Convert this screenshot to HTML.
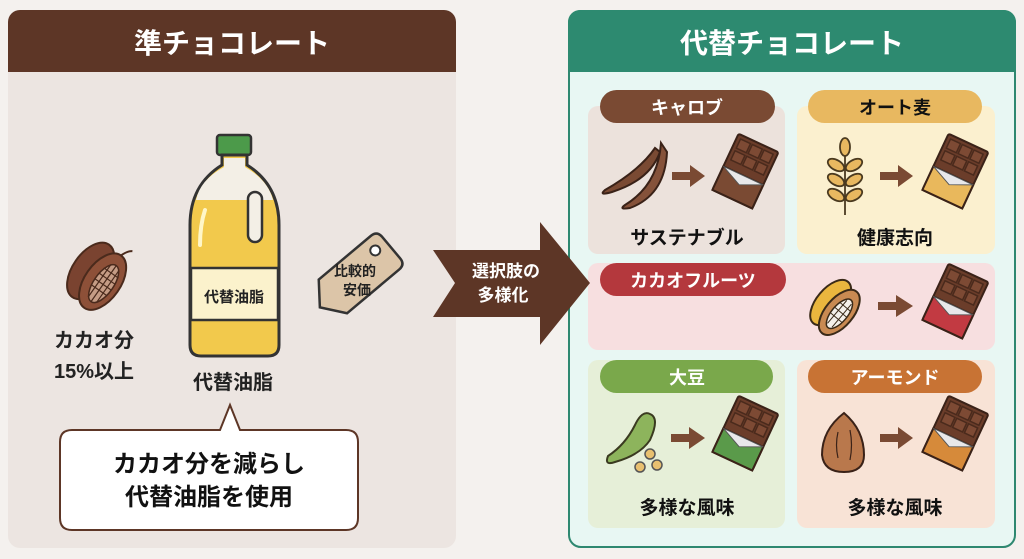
<!DOCTYPE html>
<html><head><meta charset="utf-8"><style>
body{margin:0;width:1024px;height:559px;background:#f4f1ee;overflow:hidden;font-family:"Liberation Sans","Noto Sans CJK JP",sans-serif}
svg{position:absolute;left:0;top:0}
text{font-family:"Liberation Sans","Noto Sans CJK JP",sans-serif;font-weight:bold}
</style></head><body>
<svg width="1024" height="559" viewBox="0 0 1024 559">
<defs>
<g id="bar">
 <rect x="-22" y="-32" width="44" height="62" rx="2" fill="#6b3d2a" stroke="#3a2218" stroke-width="2"/>
 <g stroke="#4a2a1c" stroke-width="1.5" fill="#7d4a34">
  <rect x="-18" y="-28" width="11" height="10"/><rect x="-5" y="-28" width="11" height="10"/><rect x="8" y="-28" width="10" height="10"/>
  <rect x="-18" y="-15" width="11" height="10"/><rect x="-5" y="-15" width="11" height="10"/><rect x="8" y="-15" width="10" height="10"/>
 </g>
</g>
</defs>

<!-- LEFT PANEL -->
<rect x="8" y="10" width="448" height="538" rx="12" fill="#ece5e1"/>
<path d="M8 72 V22 a12 12 0 0 1 12 -12 H444 a12 12 0 0 1 12 12 V72 Z" fill="#5d3626"/>
<text x="232" y="53" font-size="28" fill="#fff" text-anchor="middle">準チョコレート</text>

<!-- cacao pod -->
<g transform="translate(98,276) rotate(35)">
 <ellipse cx="-9" cy="0" rx="18" ry="32" fill="#7a4330" stroke="#4a2a1c" stroke-width="2"/>
 <ellipse cx="7" cy="2" rx="18" ry="32" fill="#8d5038" stroke="#4a2a1c" stroke-width="2"/>
 <ellipse cx="9" cy="3" rx="10" ry="22" fill="#c59c85" stroke="#4a2a1c" stroke-width="1.5"/>
 <path d="M0 -10 H18 M-1 -3 H19 M-1 4 H19 M0 11 H18 M4 -17 V23 M9 -19 V25 M14 -16 V22" stroke="#4a2a1c" stroke-width="1.2"/>
 <path d="M7 -30 Q10 -38 14 -40" stroke="#4a2a1c" stroke-width="2" fill="none"/>
</g>
<text x="94" y="347" font-size="20" fill="#222" text-anchor="middle">カカオ分</text>
<text x="94" y="378" font-size="20" fill="#222" text-anchor="middle">15%以上</text>

<!-- bottle -->
<rect x="217" y="135" width="34" height="20" rx="3" fill="#4c9a4a" stroke="#333" stroke-width="2.5"/>
<path d="M222 155 V165 Q190 185 190 225 V345 Q190 356 201 356 H268 Q279 356 279 345 V225 Q279 185 247 165 V155 Z" fill="#f2c94c" stroke="#333" stroke-width="3"/>
<path d="M224 158 V167 Q200 180 196 200 H273 Q268 180 245 167 V158 Z" fill="#f3efe6"/>
<rect x="248" y="192" width="14" height="50" rx="7" fill="#f3efe6" stroke="#333" stroke-width="2.5"/>
<path d="M205 210 Q200 225 200 245" stroke="#fff6c8" stroke-width="4" fill="none" stroke-linecap="round"/>
<rect x="191" y="268" width="87" height="52" fill="#fbf2cc" stroke="#333" stroke-width="2.5"/>
<text x="234" y="302" font-size="15" fill="#222" text-anchor="middle">代替油脂</text>
<text x="233" y="389" font-size="20" fill="#222" text-anchor="middle">代替油脂</text>

<!-- tag -->
<g transform="translate(362,272) rotate(-40)">
 <path d="M-38 -22 H30 Q38 -22 38 -14 V14 Q38 22 30 22 H-38 L-55 0 Z" fill="#dcc5a8" stroke="#333" stroke-width="2.5"/>
 <circle cx="24" cy="-8" r="5" fill="#fff" stroke="#333" stroke-width="2"/>
</g>
<text x="355" y="276" font-size="14" fill="#222" text-anchor="middle">比較的</text>
<text x="357" y="295" font-size="14" fill="#222" text-anchor="middle">安価</text>

<!-- bubble -->
<path d="M72 430 H220 L230 405 L240 430 H346 Q358 430 358 442 V518 Q358 530 346 530 H72 Q60 530 60 518 V442 Q60 430 72 430 Z" fill="#fff" stroke="#5d3626" stroke-width="2"/>
<text x="209" y="472" font-size="24" fill="#111" text-anchor="middle">カカオ分を減らし</text>
<text x="209" y="505" font-size="24" fill="#111" text-anchor="middle">代替油脂を使用</text>

<!-- RIGHT PANEL -->
<rect x="569" y="11" width="446" height="536" rx="12" fill="#e8f7f3" stroke="#2e8870" stroke-width="2"/>
<path d="M568 72 V22 a12 12 0 0 1 12 -12 H1004 a12 12 0 0 1 12 12 V72 Z" fill="#2d8a70"/>
<text x="792" y="53" font-size="28" fill="#fff" text-anchor="middle">代替チョコレート</text>

<!-- carob -->
<rect x="588" y="106" width="197" height="148" rx="10" fill="#ece2dc"/>
<rect x="600" y="90" width="175" height="33" rx="16.5" fill="#7a4a33"/>
<text x="687" y="114" font-size="18" fill="#fff" text-anchor="middle">キャロブ</text>
<path d="M655 148 Q640 170 605 190 Q598 196 612 192 Q650 180 660 152 Z" fill="#7a4a33" stroke="#3a2218" stroke-width="2"/>
<path d="M661 143 Q658 185 625 205 Q618 210 630 208 Q665 195 667 152 Z" fill="#85523a" stroke="#3a2218" stroke-width="2"/>
<polygon points="672,172 690,172 690,165 705,176 690,187 690,180 672,180" fill="#7a4a33"/>
<g transform="translate(745,172) rotate(25)"><use href="#bar"/><rect x="-22" y="4" width="44" height="26" fill="#7a4a33" stroke="#3a2218" stroke-width="2"/><polygon points="-22,4 0,14 22,4" fill="#e8e8ea" stroke="#555"/></g>
<text x="687" y="244" font-size="19" fill="#111" text-anchor="middle">サステナブル</text>

<!-- oat -->
<rect x="797" y="106" width="198" height="148" rx="10" fill="#fbf0cf"/>
<rect x="808" y="90" width="174" height="33" rx="16.5" fill="#e8b860"/>
<text x="895" y="114" font-size="18" fill="#111" text-anchor="middle">オート麦</text>
<g stroke="#4a3a20" stroke-width="1.8" fill="#e8b860">
 <line x1="845" y1="145" x2="845" y2="215"/>
 <ellipse cx="845" cy="147" rx="5" ry="9"/>
 <ellipse cx="836" cy="165" rx="9" ry="5" transform="rotate(30 836 165)"/><ellipse cx="854" cy="165" rx="9" ry="5" transform="rotate(-30 854 165)"/>
 <ellipse cx="836" cy="180" rx="9" ry="5" transform="rotate(30 836 180)"/><ellipse cx="854" cy="180" rx="9" ry="5" transform="rotate(-30 854 180)"/>
 <ellipse cx="836" cy="195" rx="9" ry="5" transform="rotate(30 836 195)"/><ellipse cx="854" cy="195" rx="9" ry="5" transform="rotate(-30 854 195)"/>
</g>
<polygon points="880,172 898,172 898,165 913,176 898,187 898,180 880,180" fill="#7a4a33"/>
<g transform="translate(955,172) rotate(25)"><use href="#bar"/><rect x="-22" y="4" width="44" height="26" fill="#e9b85c" stroke="#3a2218" stroke-width="2"/><polygon points="-22,4 0,14 22,4" fill="#e8e8ea" stroke="#555"/></g>
<text x="895" y="244" font-size="19" fill="#111" text-anchor="middle">健康志向</text>

<!-- cacao fruit -->
<rect x="588" y="263" width="407" height="87" rx="10" fill="#f7dfe0"/>
<rect x="600" y="263" width="186" height="33" rx="16.5" fill="#b4383d"/>
<text x="693" y="287" font-size="18" fill="#fff" text-anchor="middle">カカオフルーツ</text>
<g transform="translate(836,307) rotate(40)">
 <ellipse cx="-7" cy="0" rx="14" ry="27" fill="#eab63e" stroke="#3a2a18" stroke-width="2"/>
 <ellipse cx="6" cy="2" rx="14" ry="27" fill="#c98a52" stroke="#3a2a18" stroke-width="2"/>
 <ellipse cx="7" cy="3" rx="8" ry="18" fill="#f4f0ea" stroke="#3a2a18" stroke-width="1.5"/>
 <path d="M0 -6 H14 M-1 1 H15 M0 8 H14 M4 -12 V18 M10 -12 V18" stroke="#3a2a18" stroke-width="1"/>
</g>
<polygon points="878,302 896,302 896,295 913,306 896,317 896,310 878,310" fill="#7a4a33"/>
<g transform="translate(955,302) rotate(25)"><use href="#bar"/><rect x="-22" y="4" width="44" height="26" fill="#c23a42" stroke="#3a2218" stroke-width="2"/><polygon points="-22,4 0,14 22,4" fill="#e8e8ea" stroke="#555"/></g>

<!-- soy -->
<rect x="588" y="360" width="197" height="168" rx="10" fill="#e6efd8"/>
<rect x="600" y="360" width="173" height="33" rx="16.5" fill="#7aa84b"/>
<text x="687" y="384" font-size="18" fill="#fff" text-anchor="middle">大豆</text>
<path d="M650 414 Q660 418 650 440 Q640 455 615 462 Q604 466 608 456 Q625 445 635 425 Q642 410 650 414 Z" fill="#8db45c" stroke="#3a3a20" stroke-width="2"/>
<circle cx="650" cy="454" r="5" fill="#e8c070" stroke="#555" stroke-width="1.5"/>
<circle cx="640" cy="467" r="5" fill="#e8c070" stroke="#555" stroke-width="1.5"/>
<circle cx="657" cy="465" r="5" fill="#e8c070" stroke="#555" stroke-width="1.5"/>
<polygon points="671,434 689,434 689,427 705,438 689,449 689,442 671,442" fill="#7a4a33"/>
<g transform="translate(745,434) rotate(25)"><use href="#bar"/><rect x="-22" y="4" width="44" height="26" fill="#5a9a4a" stroke="#3a2218" stroke-width="2"/><polygon points="-22,4 0,14 22,4" fill="#e8e8ea" stroke="#555"/></g>
<text x="687" y="514" font-size="19" fill="#111" text-anchor="middle">多様な風味</text>

<!-- almond -->
<rect x="797" y="360" width="198" height="168" rx="10" fill="#f8e3d6"/>
<rect x="808" y="360" width="174" height="33" rx="16.5" fill="#c87334"/>
<text x="895" y="384" font-size="18" fill="#fff" text-anchor="middle">アーモンド</text>
<path d="M844 413 Q822 430 822 455 Q824 472 844 472 Q864 472 864 455 Q864 430 844 413 Z" fill="#b9784c" stroke="#3a2218" stroke-width="2"/>
<path d="M838 432 Q835 445 838 458 M850 430 Q853 445 850 460" stroke="#3a2218" stroke-width="1.2" fill="none"/>
<polygon points="880,434 898,434 898,427 913,438 898,449 898,442 880,442" fill="#7a4a33"/>
<g transform="translate(955,434) rotate(25)"><use href="#bar"/><rect x="-22" y="4" width="44" height="26" fill="#d68a3a" stroke="#3a2218" stroke-width="2"/><polygon points="-22,4 0,14 22,4" fill="#e8e8ea" stroke="#555"/></g>
<text x="895" y="514" font-size="19" fill="#111" text-anchor="middle">多様な風味</text>

<!-- big arrow -->
<polygon points="433,250 540,250 540,222 590,283 540,345 540,317 433,317 455,283" fill="#5d3626"/>
<text x="506" y="277" font-size="17" fill="#fff" text-anchor="middle">選択肢の</text>
<text x="503" y="301" font-size="17" fill="#fff" text-anchor="middle">多様化</text>
</svg>
</body></html>
